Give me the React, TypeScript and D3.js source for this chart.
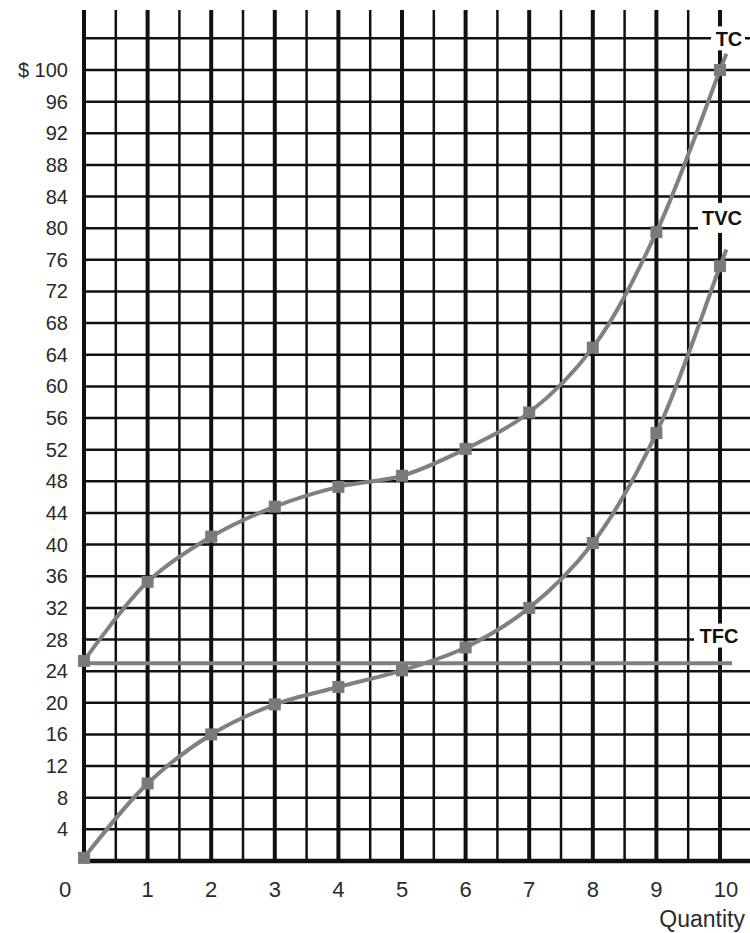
import React from "react";
import * as d3 from "d3";

const quantities = [0, 1, 2, 3, 4, 5, 6, 7, 8, 9, 10];
const tcValues = [25.3, 35.3, 41, 44.8, 47.3, 48.7, 52.1, 56.7, 64.9, 79.5, 100];
const tvcValues = [0.4, 9.8, 16, 19.8, 22, 24.1, 27, 32, 40.2, 54.1, 75.2];
const tfcValue = 25;
const yTickValues = [4, 8, 12, 16, 20, 24, 28, 32, 36, 40, 44, 48, 52, 56, 60, 64, 68, 72, 76, 80, 84, 88, 92, 96, 100];
const xTickLabels = ["0", "1", "2", "3", "4", "5", "6", "7", "8", "9", "10"];
const curveLabels = ["TC", "TVC", "TFC"];

const W = 750;
const H = 933;

export default function App() {
  const x = d3.scaleLinear().domain([0, 10]).range([84, 720]);
  const y = d3.scaleLinear().domain([0, 100]).range([861, 70]);

  const vLines = d3.range(0, 10.01, 0.5);
  const hLines = d3.range(4, 104.01, 4);

  const line = d3
    .line<[number, number]>()
    .x((d) => d[0])
    .y((d) => d[1])
    .curve(d3.curveCatmullRom.alpha(0.5));

  const toPts = (vals: number[]) => {
    const pts: [number, number][] = quantities.map((q, i) => [x(q), y(vals[i])]);
    const n = pts.length;
    const a = pts[n - 2];
    const b = pts[n - 1];
    const ext: [number, number] = [b[0] + (b[0] - a[0]) * 0.1, b[1] + (b[1] - a[1]) * 0.1];
    return { pts, ext };
  };
  const tc = toPts(tcValues);
  const tvc = toPts(tvcValues);

  const gray = "#808080";
  const gridColor = "#111";
  const font = "'Liberation Sans', Arial, sans-serif";

  const labelPos: { text: string; x: number; y: number; box: [number, number, number, number] }[] = [
    { text: curveLabels[0], x: 729, y: y(104) + 1, box: [711, y(104) - 12, 34, 24] },
    { text: curveLabels[1], x: 722, y: y(81.3), box: [698, y(81.3) - 15, 52, 30] },
    { text: curveLabels[2], x: 719, y: y(28.5), box: [694, y(28.5) - 12, 56, 24] },
  ];

  return (
    <svg width={W} height={H} style={{ position: "absolute", left: 0, top: 0, background: "#fff" }}>
      <rect x={0} y={0} width={W} height={H} fill="#fff" />
      {/* horizontal grid */}
      {hLines.map((v) => (
        <line key={"h" + v} x1={x(0)} x2={W} y1={y(v)} y2={y(v)} stroke={gridColor} strokeWidth={2.5} />
      ))}
      {/* vertical grid */}
      {vLines.map((v) => {
        const major = Math.abs(v - Math.round(v)) < 1e-6;
        return (
          <line
            key={"v" + v}
            x1={x(v)}
            x2={x(v)}
            y1={10}
            y2={y(0)}
            stroke={gridColor}
            strokeWidth={major ? 4 : 2.5}
          />
        );
      })}
      {/* baseline */}
      <line x1={x(0) - 2} x2={W} y1={y(0)} y2={y(0)} stroke={gridColor} strokeWidth={4.5} />

      {/* label boxes */}
      {labelPos.map((l) => (
        <rect key={"b" + l.text} x={l.box[0]} y={l.box[1]} width={l.box[2]} height={l.box[3]} fill="#fff" />
      ))}

      {/* TFC */}
      <line x1={x(0)} x2={732} y1={y(tfcValue)} y2={y(tfcValue)} stroke={gray} strokeWidth={4} />

      {/* curves */}
      {[tc, tvc].map((c, i) => (
        <g key={"c" + i}>
          <path d={line([...c.pts, c.ext]) || ""} fill="none" stroke={gray} strokeWidth={4} />
          {c.pts.map((p, j) => (
            <rect key={j} x={p[0] - 6} y={p[1] - 6} width={12} height={12} fill="#7a7a7a" />
          ))}
        </g>
      ))}

      {/* curve labels */}
      {labelPos.map((l) => (
        <text
          key={"t" + l.text}
          x={l.x}
          y={l.y}
          textAnchor="middle"
          dominantBaseline="central"
          fontFamily={font}
          fontWeight="bold"
          fontSize={20}
          fill="#111"
        >
          {l.text}
        </text>
      ))}

      {/* y tick labels */}
      {yTickValues.map((v) => (
        <text
          key={"yt" + v}
          x={68}
          y={y(v)}
          textAnchor="end"
          dominantBaseline="central"
          fontFamily={font}
          fontSize={20}
          fill="#2a2a2a"
        >
          {v === 100 ? "$ 100" : String(v)}
        </text>
      ))}

      {/* x tick labels */}
      {quantities.map((q, i) => (
        <text
          key={"xt" + q}
          x={q === 0 ? x(q) - 19 : q === 10 ? x(q) + 6 : x(q)}
          y={889}
          textAnchor="middle"
          dominantBaseline="central"
          fontFamily={font}
          fontSize={22}
          fill="#2a2a2a"
        >
          {xTickLabels[i]}
        </text>
      ))}
      <text x={745} y={919} textAnchor="end" dominantBaseline="central" fontFamily={font} fontSize={23} fill="#2a2a2a">
        Quantity
      </text>
    </svg>
  );
}
